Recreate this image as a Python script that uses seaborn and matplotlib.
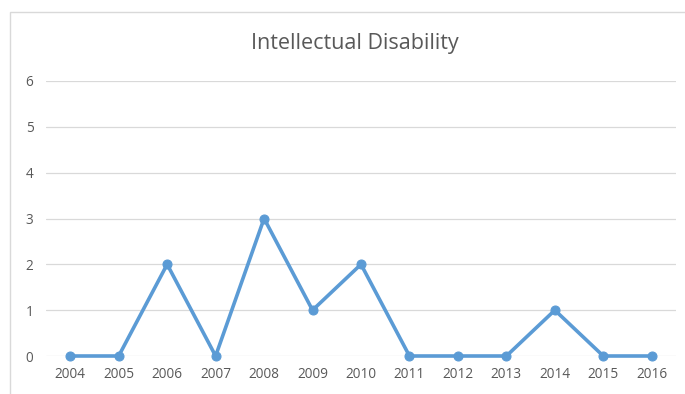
import matplotlib
matplotlib.use("Agg")
import matplotlib.pyplot as plt
from matplotlib.patches import Rectangle
import seaborn as sns
import pandas as pd

years = [2004, 2005, 2006, 2007, 2008, 2009, 2010, 2011, 2012, 2013, 2014, 2015, 2016]
counts = [0, 0, 2, 0, 3, 1, 2, 0, 0, 0, 1, 0, 0]
y_ticks = [0, 1, 2, 3, 4, 5, 6]
title = "Intellectual Disability"

df = pd.DataFrame({"year": years, "count": counts})

sns.set_theme(style="white")
plt.rcParams["font.family"] = ["Open Sans", "DejaVu Sans"]

W, H = 685, 394
fig = plt.figure(figsize=(W / 100, H / 100), dpi=100)
fig.patch.set_facecolor("white")

# chart frame (extends past the right and bottom edges)
fig.add_artist(Rectangle((10 / W, -0.05), 1.2, (H - 12) / H + 0.05,
                         transform=fig.transFigure, fill=False,
                         edgecolor="#D9D9D9", linewidth=1.0))

ax = fig.add_axes([46 / W, 38 / H, 630 / W, 275 / H])
sns.lineplot(data=df, x="year", y="count", ax=ax, color="#5B9BD5",
             linewidth=2.6, marker="o", markersize=6.5,
             markeredgecolor="#5B9BD5", markerfacecolor="#5B9BD5")
for line in ax.lines:
    line.set_clip_on(False)

ax.set_xlim(years[0] - 0.5, years[-1] + 0.5)
ax.set_ylim(0, 6)
ax.set_xticks(years)
ax.set_xticklabels([str(y) for y in years])
ax.set_yticks(y_ticks)
ax.grid(axis="y", color="#D9D9D9", linewidth=0.9)
ax.set_axisbelow(True)
for s in ax.spines.values():
    s.set_visible(False)
ax.tick_params(axis="both", length=0, labelsize=9.8, labelcolor="#595959")
ax.tick_params(axis="x", pad=8)
ax.tick_params(axis="y", pad=9)
ax.set_xlabel("")
ax.set_ylabel("")

fig.text(355 / W, 1 - 44 / H, title, ha="center", va="center",
         fontsize=15.5, color="#595959")

fig.savefig("out.png", dpi=100, facecolor="white")
